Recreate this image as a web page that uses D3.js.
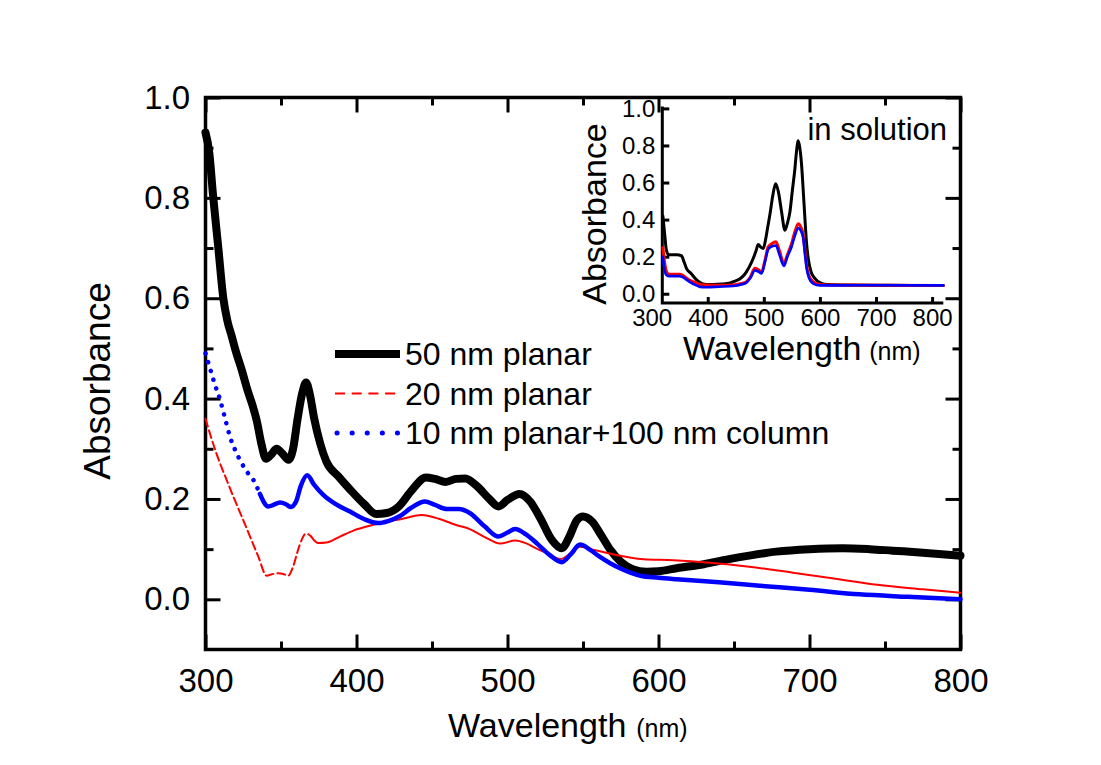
<!DOCTYPE html>
<html>
<head>
<meta charset="utf-8">
<script src="https://cdn.jsdelivr.net/npm/d3@7"></script>
<style>
  body { margin: 0; background: #fff; }
  svg { display: block; font-family: "Liberation Sans", Arial, sans-serif; }
</style>
</head>
<body>
<svg id="chart" width="1101" height="765"></svg>
<script>
// main plot: thin films
const wl50 = [300,302.5,305,308.5,311.8,314.5,317.4,320,324,328,331,334,337,340,344,347,351,355,358,361,364,366.6,369,372,376,380,388,396,405,413,420,428,436,446,452,459,466,472,480,488,494,500,508,515,522,529,536,541,546,550,556,562,568,575,583,592,600,612,630,645,660,678,700,722,740,755,775,800];
const abs50 = [0.93,0.89,0.805,0.70,0.60,0.555,0.524,0.495,0.457,0.415,0.388,0.355,0.31,0.28,0.29,0.30,0.29,0.278,0.30,0.36,0.41,0.432,0.41,0.36,0.31,0.275,0.245,0.218,0.19,0.17,0.172,0.185,0.215,0.243,0.24,0.234,0.24,0.241,0.225,0.20,0.185,0.198,0.21,0.195,0.16,0.12,0.102,0.125,0.158,0.165,0.155,0.128,0.099,0.075,0.06,0.055,0.056,0.062,0.07,0.079,0.087,0.095,0.10,0.102,0.10,0.097,0.093,0.087];

const wl20 = [300,304,309.6,314,318.4,324,329.5,335,340.5,344,348.2,352,354.8,358,362,366.6,370,374.7,380,389,398,406.8,413,420,430,443,455,466,475,485,495,505,512,520,528,535,542,548,555,568,590,610,634,660,689,715,745,775,800];
const abs20 = [0.36,0.32,0.271,0.238,0.205,0.165,0.125,0.085,0.047,0.05,0.052,0.05,0.047,0.065,0.105,0.131,0.125,0.112,0.113,0.125,0.137,0.145,0.15,0.155,0.16,0.168,0.16,0.148,0.14,0.124,0.111,0.117,0.112,0.10,0.09,0.08,0.092,0.105,0.10,0.091,0.08,0.078,0.073,0.065,0.053,0.042,0.029,0.02,0.013];

const wl10 = [300,303,306,309.6,313,316.2,320,324,328,331.7,336,341.6,345,349.3,353,356.4,360,363,367.4,372,378,386,395.7,405,414.5,421,428.8,436,445.4,452,460,468,475,485,494,500,505,512,520,528,536,542,548,555,561,568,574.5,588,600,612,640,667,700,733,765,800];
const abs10 = [0.49,0.46,0.43,0.398,0.36,0.324,0.295,0.271,0.252,0.238,0.21,0.185,0.188,0.193,0.19,0.184,0.195,0.225,0.247,0.228,0.208,0.19,0.175,0.16,0.152,0.156,0.166,0.182,0.195,0.188,0.18,0.18,0.172,0.145,0.125,0.133,0.14,0.13,0.11,0.088,0.074,0.09,0.109,0.098,0.085,0.072,0.062,0.047,0.043,0.040,0.034,0.027,0.019,0.010,0.005,0.0];

// inset: in solution
const wlSolBlack = [320,323,326,330,335,345,353,358,362,370,380,390,398,410,425,440,450,457,463,469,475,481,486,490,495,499,503,507,511,516,521,526,531.7,537.6,542,546.5,551,555.4,558,561.4,564,567.4,570,573.3,576,579.2,584,591,600,612,640,700,760,820];
const absSolBlack = [0.42,0.33,0.24,0.21,0.21,0.21,0.205,0.17,0.137,0.11,0.075,0.055,0.05,0.05,0.052,0.058,0.07,0.08,0.095,0.118,0.15,0.19,0.23,0.266,0.25,0.244,0.29,0.36,0.43,0.53,0.594,0.55,0.441,0.342,0.38,0.441,0.56,0.674,0.76,0.826,0.79,0.692,0.57,0.405,0.28,0.19,0.12,0.083,0.06,0.05,0.047,0.046,0.045,0.045];

const wlSol = [320,323,326.7,331,340,350,355,362.4,370,380,386,398,420,445.5,460,469,476,484,490,496,502,507.8,514,521.6,528,535.8,542,549.6,555,561.4,566,570.2,573,576.2,580,588,600,623.6,700,820];
const absSolRed = [0.25,0.17,0.118,0.105,0.105,0.105,0.1,0.083,0.07,0.058,0.05,0.047,0.046,0.047,0.055,0.065,0.09,0.137,0.13,0.118,0.18,0.253,0.27,0.28,0.23,0.163,0.21,0.271,0.33,0.378,0.36,0.316,0.24,0.154,0.1,0.065,0.05,0.047,0.046,0.045];
const absSolBlue = [0.2,0.13,0.1,0.095,0.095,0.095,0.09,0.075,0.06,0.045,0.037,0.035,0.038,0.042,0.05,0.06,0.085,0.125,0.12,0.11,0.17,0.24,0.255,0.26,0.21,0.15,0.2,0.255,0.31,0.355,0.34,0.3,0.225,0.14,0.09,0.055,0.045,0.045,0.046,0.045];

const xTicks = [300, 400, 500, 600, 700, 800];
const xMinor = [350, 450, 550, 650, 750];
const yTicks = [0, 0.2, 0.4, 0.6, 0.8, 1.0];
const yMinor = [0.1, 0.3, 0.5, 0.7, 0.9];
const legendLabels = ["50 nm planar", "20 nm planar", "10 nm planar+100 nm column"];

const svg = d3.select("#chart");
svg.append("rect").attr("width", 1101).attr("height", 765).attr("fill", "#fff");

const x = d3.scaleLinear().domain([300, 800]).range([205.5, 960.5]);
const y = d3.scaleLinear().domain([-0.1, 1.0]).range([649.5, 97.5]);

function styleAxis(g, size) {
  g.attr("font-family", null).attr("font-size", null);
  g.select(".domain").remove();
  g.selectAll(".tick line").attr("stroke", "#000").attr("stroke-width", 3);
  g.selectAll(".tick text").attr("fill", "#000").style("font-size", size + "px");
}

// main axes (ticks inward on all four sides)
const plot = svg.append("g");
plot.append("g").attr("transform", `translate(0,${y(-0.1)})`)
  .call(d3.axisBottom(x).tickValues(xTicks).tickSize(-15).tickPadding(19).tickFormat(d3.format("d")))
  .call((g) => styleAxis(g, 33));
plot.append("g").attr("transform", `translate(0,${y(-0.1)})`)
  .call(d3.axisBottom(x).tickValues(xMinor).tickSize(-8).tickFormat(""))
  .call((g) => styleAxis(g, 33));
plot.append("g").attr("transform", `translate(0,${y(1.0)})`)
  .call(d3.axisTop(x).tickValues(xTicks).tickSize(-15).tickFormat(""))
  .call((g) => styleAxis(g, 33));
plot.append("g").attr("transform", `translate(0,${y(1.0)})`)
  .call(d3.axisTop(x).tickValues(xMinor).tickSize(-8).tickFormat(""))
  .call((g) => styleAxis(g, 33));
plot.append("g").attr("transform", `translate(${x(300)},0)`)
  .call(d3.axisLeft(y).tickValues(yTicks).tickSize(-15).tickPadding(15.5).tickFormat(d3.format(".1f")))
  .call((g) => styleAxis(g, 33));
plot.append("g").attr("transform", `translate(${x(300)},0)`)
  .call(d3.axisLeft(y).tickValues(yMinor).tickSize(-8).tickFormat(""))
  .call((g) => styleAxis(g, 33));
plot.append("g").attr("transform", `translate(${x(800)},0)`)
  .call(d3.axisRight(y).tickValues(yTicks).tickSize(-15).tickFormat(""))
  .call((g) => styleAxis(g, 33));
plot.append("g").attr("transform", `translate(${x(800)},0)`)
  .call(d3.axisRight(y).tickValues(yMinor).tickSize(-8).tickFormat(""))
  .call((g) => styleAxis(g, 33));

plot.append("rect")
  .attr("x", x(300)).attr("y", y(1.0))
  .attr("width", x(800) - x(300)).attr("height", y(-0.1) - y(1.0))
  .attr("fill", "none").attr("stroke", "#000").attr("stroke-width", 3.5);

// curves; dashed/dotted only on the steep start, like the original export
function drawSeries(g, wl, abs, xs, ys, parts, color, width) {
  const pts = d3.zip(wl, abs);
  const line = d3.line().x((d) => xs(d[0])).y((d) => ys(d[1])).curve(d3.curveMonotoneX);
  let from = -Infinity;
  parts.forEach((p) => {
    const seg = pts.filter((d) => d[0] >= from && d[0] <= p.to);
    g.append("path")
      .attr("d", line(seg))
      .attr("fill", "none")
      .attr("stroke", color)
      .attr("stroke-width", width)
      .attr("stroke-linecap", "round")
      .attr("stroke-linejoin", "round")
      .attr("stroke-dasharray", p.dash);
    from = p.to;
  });
}

const curves = svg.append("g");
drawSeries(curves, wl50, abs50, x, y, [{ to: 800, dash: null }], "#000", 8);
drawSeries(curves, wl20, abs20, x, y, [{ to: 370, dash: "8,4" }, { to: 800, dash: null }], "#ff0000", 2);
drawSeries(curves, wl10, abs10, x, y, [{ to: 336, dash: "0.1,9" }, { to: 800, dash: null }], "#0000ff", 4.5);

// legend
const legendY = [354, 393.5, 433];
const legendStyle = [
  { color: "#000", width: 8, dash: null, cap: "butt" },
  { color: "#ff0000", width: 2, dash: "10,6.7", cap: "butt" },
  { color: "#0000ff", width: 5, dash: "0.1,15", cap: "round" },
];
const legend = svg.append("g");
legendLabels.forEach((label, i) => {
  const s = legendStyle[i];
  legend.append("line")
    .attr("x1", i === 2 ? 337 : 335).attr("x2", 400)
    .attr("y1", legendY[i]).attr("y2", legendY[i])
    .attr("stroke", s.color).attr("stroke-width", s.width)
    .attr("stroke-dasharray", s.dash).attr("stroke-linecap", s.cap);
  legend.append("text")
    .attr("x", 405).attr("y", legendY[i]).attr("dy", "0.35em")
    .style("font-size", "32px").text(label);
});

// axis titles
svg.append("text")
  .attr("transform", "translate(110,381) rotate(-90)")
  .attr("text-anchor", "middle")
  .style("font-size", "37px")
  .text("Absorbance");
const xTitle = svg.append("text").attr("x", 448).attr("y", 737);
xTitle.append("tspan").style("font-size", "34px").text("Wavelength");
xTitle.append("tspan").attr("dx", 10).style("font-size", "25px").text("(nm)");

// inset
const xi = d3.scaleLinear().domain([319, 820]).range([662.3, 943.3]);
const yi = d3.scaleLinear().domain([-0.05, 1.0]).range([303, 108.4]);
const inset = svg.append("g");

inset.append("g").attr("transform", `translate(0,${yi(-0.05)})`)
  .call(d3.axisBottom(xi).tickValues(xTicks).tickSize(0).tickPadding(6).tickFormat(d3.format("d")))
  .call((g) => styleAxis(g, 24));
inset.append("g").attr("transform", `translate(0,${yi(-0.05)})`)
  .call(d3.axisBottom(xi).tickValues(xTicks.slice(1)).tickSize(-6).tickFormat(""))
  .call((g) => styleAxis(g, 24));
inset.append("g").attr("transform", `translate(${xi(319)},0)`)
  .call(d3.axisLeft(yi).tickValues(yTicks).tickSize(-7).tickPadding(7).tickFormat(d3.format(".1f")))
  .call((g) => styleAxis(g, 24));

inset.append("path")
  .attr("d", `M${xi(319)},${yi(1.0) - 2}V${yi(-0.05)}H${xi(820)}`)
  .attr("fill", "none").attr("stroke", "#000").attr("stroke-width", 3);

drawSeries(inset, wlSolBlack, absSolBlack, xi, yi, [{ to: 820, dash: null }], "#000", 3);
drawSeries(inset, wlSol, absSolRed, xi, yi, [{ to: 820, dash: null }], "#ff0000", 3);
drawSeries(inset, wlSol, absSolBlue, xi, yi, [{ to: 820, dash: null }], "#0000ff", 2.6);

inset.append("text")
  .attr("transform", "translate(606,214) rotate(-90)")
  .attr("text-anchor", "middle")
  .style("font-size", "34px")
  .text("Absorbance");
const xiTitle = inset.append("text").attr("x", 683).attr("y", 360);
xiTitle.append("tspan").style("font-size", "34px").text("Wavelength");
xiTitle.append("tspan").attr("dx", 8).style("font-size", "25px").text("(nm)");
inset.append("text")
  .attr("x", 947).attr("y", 140).attr("text-anchor", "end")
  .style("font-size", "31px")
  .text("in solution");
</script>
</body>
</html>
